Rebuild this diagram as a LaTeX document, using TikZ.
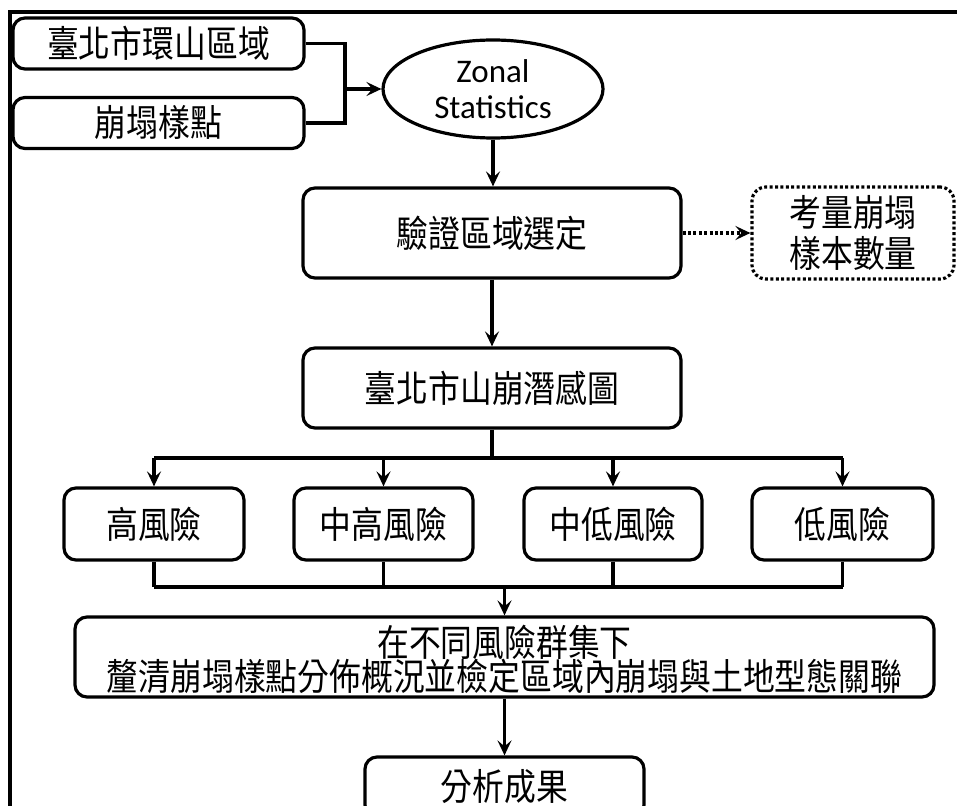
\documentclass[tikz,border=0pt]{standalone}
\usepackage{fontspec}
\setmainfont{Carlito}
\newfontfamily\cjk[FakeStretch=0.86]{Noto Sans CJK TC}
\usetikzlibrary{arrows.meta,shapes.geometric}
\begin{document}
\begin{tikzpicture}[x=1pt,y=-1pt,
  lw/.style={line width=3.2pt},
  stepbox/.style={draw,lw,rounded corners=12pt,inner sep=0pt,align=center,
    font=\cjk\fontsize{37}{38}\selectfont},
  dotbox/.style={stepbox,dash pattern=on 3pt off 2.4pt,rounded corners=14pt},
  arr/.style={lw,-{Stealth[length=15pt,width=14pt,inset=6pt]}},
  dotarr/.style={arr,dash pattern=on 3pt off 2.4pt}]
\clip (0,0) rectangle (957,805);
\fill[white] (0,0) rectangle (957,805);
% outer frame (only top and left visible)
\draw[line width=3.4pt] (10,806) -- (10,12) -- (958,12);

\node[stepbox,minimum width=291pt,minimum height=51pt] (b1) at (158.5,43.5) {臺北市環山區域};
\node[stepbox,minimum width=291pt,minimum height=51pt] (b2) at (158.5,123) {崩塌樣點};
\node[draw,lw,ellipse,minimum width=220pt,minimum height=98pt,inner sep=0pt,align=center,
      font=\fontsize{33}{36}\selectfont] (zs) at (493,89) {Zonal\\Statistics};
\node[stepbox,minimum width=378pt,minimum height=90pt] (b3) at (492,233) {驗證區域選定};
\node[dotbox,minimum width=202pt,minimum height=92pt] (cq) at (853,233) {考量崩塌\\[3pt]樣本數量};
\node[stepbox,minimum width=378pt,minimum height=80pt] (b4) at (492,388) {臺北市山崩潛感圖};
\node[stepbox,minimum width=180pt,minimum height=72pt] (r1) at (154,524) {高風險};
\node[stepbox,minimum width=179pt,minimum height=72pt] (r2) at (383.5,524) {中高風險};
\node[stepbox,minimum width=178pt,minimum height=72pt] (r3) at (613,524) {中低風險};
\node[stepbox,minimum width=181pt,minimum height=72pt] (r4) at (842.5,524) {低風險};
\node[stepbox,minimum width=859pt,minimum height=80pt] (b5) at (504.5,657) {\rule{0pt}{36pt}在不同風險群集下\\[-4pt]釐清崩塌樣點分佈概況並檢定區域內崩塌與土地型態關聯};
\node[stepbox,minimum width=279pt,minimum height=60pt] (b6) at (504.5,787) {分析成果};

% bracket from the two input boxes to the ellipse
\coordinate (jx) at (345,0);
\draw[lw] (b1.east) -- (b1.east -| jx) -- (b2.east -| jx) -- (b2.east);
\draw[arr] (zs.west -| jx) -- (zs.west);
\draw[arr] (zs.south) -- (zs.south |- b3.north);
\draw[dotarr] (b3.east |- cq.west) -- (cq.west);
\draw[arr] (b3.south) -- (b4.north);

% split to the four risk classes
\coordinate (sy) at (0,458);
\draw[lw] (b4.south) -- (b4.south |- sy);
\draw[lw] (r1.north |- sy) -- (r4.north |- sy);
\foreach \r in {r1,r2,r3,r4} \draw[arr] (\r.north |- sy) -- (\r.north);

% merge
\coordinate (my) at (0,587);
\foreach \r in {r1,r2,r3,r4} \draw[lw] (\r.south) -- (\r.south |- my);
\draw[lw] (r1.south |- my) -- (r4.south |- my);
\draw[arr] (b5.north |- my) -- (b5.north);
\draw[arr] (b5.south) -- (b6.north);
\end{tikzpicture}
\end{document}
